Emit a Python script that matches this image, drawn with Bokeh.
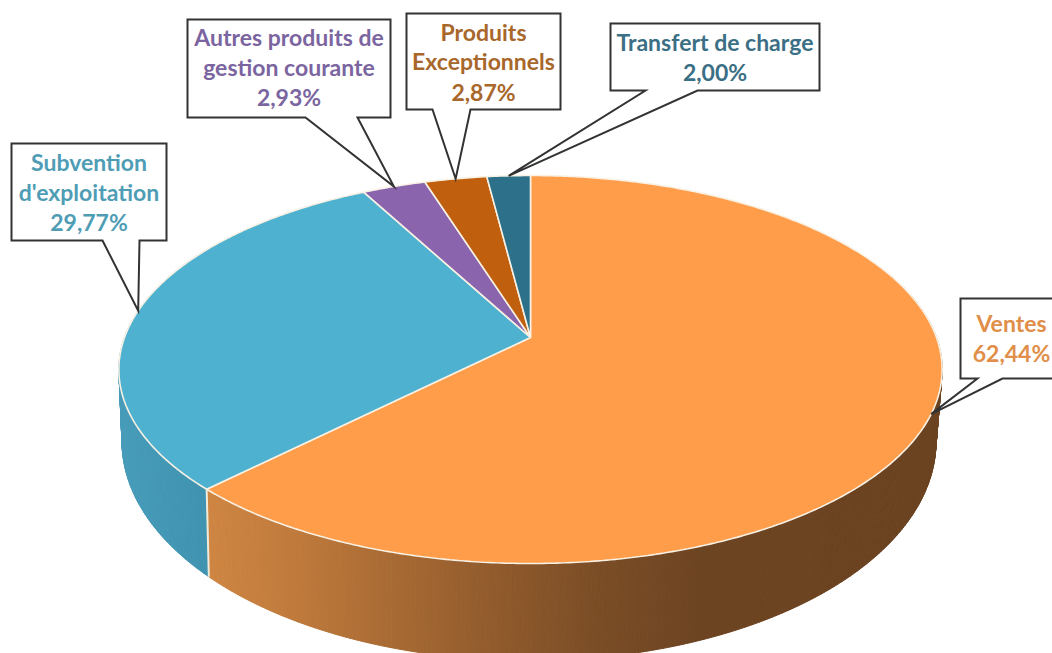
import numpy as np
from bokeh.plotting import figure
from bokeh.embed import file_html
from bokeh.resources import INLINE
from bokeh.core.properties import value

categories = ["Ventes", "Subvention d'exploitation", "Autres produits de gestion courante",
              "Produits Exceptionnels", "Transfert de charge"]
shares = [62.44, 29.77, 2.93, 2.87, 2.00]
label_lines = [["Ventes", "62,44%"],
               ["Subvention", "d'exploitation", "29,77%"],
               ["Autres produits de", "gestion courante", "2,93%"],
               ["Produits", "Exceptionnels", "2,87%"],
               ["Transfert de charge", "2,00%"]]
top_colors = ["#FF9D4A", "#4FB1D0", "#8A64AC", "#C0600F", "#2C7189"]
text_colors = ["#E08E48", "#4F9DB5", "#7B65A0", "#A8672B", "#3B6F85"]

# projection of the tilted disc
K = 0.165
TOP = dict(cx=530.0, cy=337.0, a=406.0, b=188.7)
LOW = dict(cx=528.5, cy=405.0, a=401.4, b=213.0)

def project(theta_deg, d):
    t = np.radians(theta_deg)
    u, v = np.sin(t), np.cos(t)
    w = 1 + K * v
    return d["cx"] + d["a"] * u / w, d["cy"] - d["b"] * v / w

# callout boxes: left, right, top, bottom, pointer base left, pointer base right
boxes = [(960, 1062, 298, 378, 977, 1002),
         (11, 166, 143, 240, 102, 139),
         (187, 390, 19, 117, 305, 357),
         (406, 560, 13, 109, 432, 470),
         (610, 819, 23, 90, 645, 697)]
line_y = [[322.5, 352.5], [161.5, 191.5, 221.5], [36.5, 66.5, 96.5], [31.5, 60.5, 91.5], [41.5, 71.5]]
text_x = [1011, 88.5, 288.5, 483, 714.5]

p = figure(width=1052, height=653, x_range=(0, 1052), y_range=(653, 0),
           output_backend="svg", toolbar_location=None, min_border=0,
           outline_line_color=None, background_fill_color="white")
p.axis.visible = False
p.grid.visible = False

edges = np.concatenate([[0], np.cumsum(shares)]) / np.sum(shares) * 360.0

# gradient of the orange wall, by horizontal position
ox = [205, 300, 400, 500, 600, 700, 950]
oc = np.array([[0xCF, 0x86, 0x43], [0xBE, 0x79, 0x3B], [0xA6, 0x69, 0x33],
               [0x90, 0x5A, 0x2C], [0x7A, 0x4D, 0x26], [0x6D, 0x44, 0x22], [0x6B, 0x43, 0x21]], float)
bx = [120, 210]
bc = np.array([[0x47, 0x9C, 0xB9], [0x40, 0x93, 0xB0]], float)

def wall_color(i, x):
    xs, cs = (ox, oc) if i == 0 else (bx, bc)
    return "#%02x%02x%02x" % tuple(int(round(np.interp(x, xs, cs[:, c]))) for c in range(3))

for i in (0, 1):
    a0 = max(edges[i], 70.0)
    a1 = min(edges[i + 1], 300.0)
    steps = np.linspace(a0, a1, int((a1 - a0) * 2) + 1)
    qx, qy, qc = [], [], []
    for s0, s1 in zip(steps[:-1], steps[1:]):
        x0, y0 = project(s0, TOP); x1, y1 = project(s1, TOP)
        x2, y2 = project(s1, LOW); x3, y3 = project(s0, LOW)
        qx.append([x0, x1, x2, x3]); qy.append([y0, y1, y2, y3])
        qc.append(wall_color(i, (x0 + x1) / 2))
    p.patches(qx, qy, fill_color=qc, line_color=qc, line_width=1)

# seam on the wall between the first two slices
sx0, sy0 = project(edges[1], TOP)
sx1, sy1 = project(edges[1], LOW)
p.line([sx0, sx1], [sy0, sy1], line_color="#F3EBD8", line_width=2)

# top face
for i in range(len(shares)):
    th = np.linspace(edges[i], edges[i + 1], max(int(edges[i + 1] - edges[i]) * 2, 8))
    x, y = project(th, TOP)
    xs = np.concatenate([[TOP["cx"]], x])
    ys = np.concatenate([[TOP["cy"]], y])
    p.patch(xs, ys, fill_color=top_colors[i], line_color="#F8F1E4", line_width=1.6)

# callouts with their pointers aimed at each slice's middle
for i, (l, r, t, b, b0, b1) in enumerate(boxes):
    tipx, tipy = project((edges[i] + edges[i + 1]) / 2, TOP)
    p.patch([l, r, r, b1, tipx, b0, l], [t, t, b, b, tipy, b, b],
            fill_color="white", line_color="#333333", line_width=2, line_join="miter")
    n = len(label_lines[i])
    p.text([text_x[i]] * n, line_y[i], text=label_lines[i],
           text_font=value("Lato"), text_font_style="bold", text_font_size="23px",
           text_color=text_colors[i], text_align="center", text_baseline="middle")

open("out.html", "w").write(file_html(p, INLINE))
